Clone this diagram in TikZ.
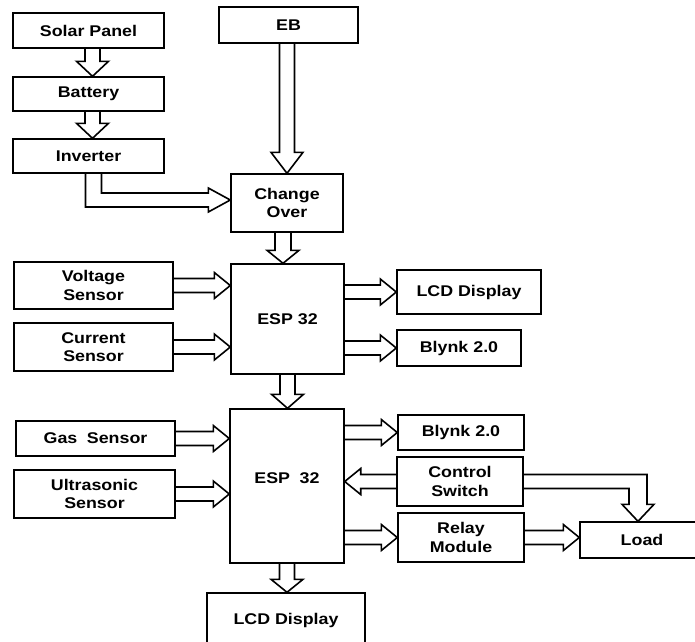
\documentclass[tikz,border=0pt]{standalone}
\usepackage{fontspec}
\setmainfont{Liberation Sans}[FakeStretch=1.15]
\usetikzlibrary{calc}
\tikzset{
  box/.style={draw, line width=1.4pt, inner sep=0pt, align=center,
    font=\bfseries\fontsize{15.5}{18.5}\selectfont},
  blk/.style={draw, line width=1.6pt, line join=miter},
}
% block arrows: #1 start, #2 end, #3 shaft half width, #4 head half width, #5 head length
\newcommand\blkR[5]{\draw[blk] let \p1=(#1), \p2=(#2) in
  (\x1,\y1+#3) -- (\x2-#5,\y1+#3) -- (\x2-#5,\y1+#4) -- (\x2,\y1) --
  (\x2-#5,\y1-#4) -- (\x2-#5,\y1-#3) -- (\x1,\y1-#3);}
\newcommand\blkL[5]{\draw[blk] let \p1=(#1), \p2=(#2) in
  (\x1,\y1+#3) -- (\x2+#5,\y1+#3) -- (\x2+#5,\y1+#4) -- (\x2,\y1) --
  (\x2+#5,\y1-#4) -- (\x2+#5,\y1-#3) -- (\x1,\y1-#3);}
\newcommand\blkD[5]{\draw[blk] let \p1=(#1), \p2=(#2) in
  (\x1-#3,\y1) -- (\x1-#3,\y2+#5) -- (\x1-#4,\y2+#5) -- (\x1,\y2) --
  (\x1+#4,\y2+#5) -- (\x1+#3,\y2+#5) -- (\x1+#3,\y1);}
\begin{document}
\begin{tikzpicture}[x=1pt,y=-1pt]
\clip (0,0) rectangle (695,641);
\fill[white] (0,0) rectangle (695,641);
% boxes
\node[box, minimum width=151pt, minimum height=35pt] (solar) at (88.5,30.5) {Solar Panel};
\node[box, minimum width=139pt, minimum height=36pt] (eb) at (288.5,25) {EB};
\node[box, minimum width=151pt, minimum height=34pt] (battery) at (88.5,94) {Battery};
\node[box, minimum width=151pt, minimum height=34pt] (inverter) at (88.5,156) {Inverter};
\node[box, minimum width=112pt, minimum height=58pt] (change) at (287,203) {Change\\Over};
\node[box, minimum width=159pt, minimum height=47pt] (volt) at (93.5,285.5) {Voltage\\Sensor};
\node[box, minimum width=159pt, minimum height=48pt] (curr) at (93.5,347) {Current\\Sensor};
\node[box, minimum width=113pt, minimum height=110pt] (esp1) at (287.5,319) {ESP 32};
\node[box, minimum width=144pt, minimum height=44pt] (lcd1) at (469,292) {LCD Display};
\node[box, minimum width=124pt, minimum height=36pt] (blynk1) at (459,348) {Blynk 2.0};
\node[box, minimum width=114pt, minimum height=154pt] (esp2) at (287,486) {\raisebox{16pt}{ESP\hspace{0.3em} 32}};
\node[box, minimum width=159pt, minimum height=35pt] (gas) at (95.5,438.5) {Gas\hspace{0.3em} Sensor};
\node[box, minimum width=161pt, minimum height=48pt] (ultra) at (94.5,494) {Ultrasonic\\Sensor};
\node[box, minimum width=158pt, minimum height=54pt] (lcd2) at (286,620) {LCD Display};
\node[box, minimum width=126pt, minimum height=35pt] (blynk2) at (461,432.5) {Blynk 2.0};
\node[box, minimum width=126pt, minimum height=49pt] (ctrl) at (460,481.5) {Control\\Switch};
\node[box, minimum width=126pt, minimum height=49pt] (relay) at (461,537.5) {Relay\\Module};
\node[box, minimum width=124pt, minimum height=36pt] (load) at (642,540) {Load};
% vertical arrows
\blkD{$(solar.south)+(4,0)$}{battery.north}{7.5pt}{16pt}{15pt}
\blkD{$(battery.south)+(4,0)$}{inverter.north}{7.5pt}{16pt}{15pt}
\blkD{eb.south -| change.north}{change.north}{7.5pt}{16pt}{21pt}
\blkD{$(change.south)+(-4,0)$}{esp1.north}{8pt}{16pt}{13pt}
\blkD{esp1.south}{esp2.north}{7.5pt}{16pt}{14pt}
\blkD{esp2.south}{lcd2.north}{7.5pt}{16pt}{13pt}
% horizontal arrows
\blkR{volt.east}{esp1.west |- volt.east}{7pt}{13pt}{16pt}
\blkR{curr.east}{esp1.west |- curr.east}{7pt}{13pt}{16pt}
\blkR{esp1.east |- lcd1.west}{lcd1.west}{7pt}{13pt}{16pt}
\blkR{esp1.east |- blynk1.west}{blynk1.west}{7pt}{13pt}{16pt}
\blkR{gas.east}{esp2.west |- gas.east}{7pt}{13pt}{16pt}
\blkR{ultra.east}{esp2.west |- ultra.east}{7pt}{13pt}{16pt}
\blkR{esp2.east |- blynk2.west}{blynk2.west}{7pt}{13pt}{16pt}
\blkL{ctrl.west}{esp2.east |- ctrl.west}{7pt}{13pt}{16pt}
\blkR{esp2.east |- relay.west}{relay.west}{7pt}{13pt}{16pt}
\blkR{relay.east}{load.west |- relay.east}{7pt}{13pt}{16pt}
% inverter -> change over (L-shaped)
\draw[blk] let \p1=($(inverter.south)+(5,0)$), \p2=($(change.west)+(0,-3)$) in
  (\x1-8pt,\y1) -- (\x1-8pt,\y2-7pt) -- (\x2-22pt,\y2-7pt) -- (\x2-22pt,\y2-12pt) --
  (\x2,\y2) -- (\x2-22pt,\y2+12pt) -- (\x2-22pt,\y2+7pt) -- (\x1+8pt,\y2+7pt) -- (\x1+8pt,\y1);
% control switch -> load (L-shaped)
\draw[blk] let \p1=(ctrl.east), \p2=($(load.north)+(-4,0)$) in
  (\x1,\y1+7pt) -- (\x2+9pt,\y1+7pt) -- (\x2+9pt,\y2+17pt) -- (\x2+16pt,\y2+17pt) --
  (\x2,\y2) -- (\x2-16pt,\y2+17pt) -- (\x2-9pt,\y2+17pt) -- (\x2-9pt,\y1-7pt) -- (\x1,\y1-7pt);
\end{tikzpicture}
\end{document}
